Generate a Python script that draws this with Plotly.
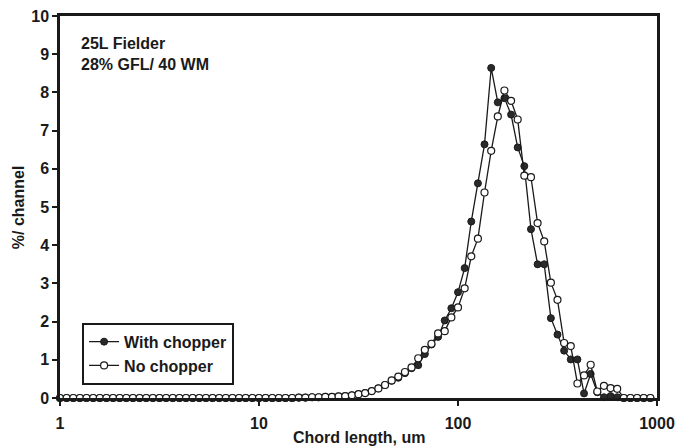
import plotly.graph_objects as go

# FBRM chord-length channels (um), log-spaced, 30 per decade
chord_um = [
    1.000, 1.080, 1.166, 1.259, 1.359, 1.468, 1.585, 1.711, 1.848, 1.995,
    2.154, 2.326, 2.512, 2.712, 2.929, 3.162, 3.415, 3.687, 3.981, 4.299,
    4.642, 5.012, 5.412, 5.843, 6.310, 6.813, 7.356, 7.943, 8.577, 9.261,
    10.00, 10.80, 11.66, 12.59, 13.59, 14.68, 15.85, 17.11, 18.48, 19.95,
    21.54, 23.26, 25.12, 27.12, 29.29, 31.62, 34.15, 36.87, 39.81, 42.99,
    46.42, 50.12, 54.12, 58.43, 63.10, 68.13, 73.56, 79.43, 85.77, 92.61,
    100.0, 108.0, 116.6, 125.9, 135.9, 146.8, 158.5, 171.1, 184.8, 199.5,
    215.4, 232.6, 251.2, 271.2, 292.9, 316.2, 341.5, 368.7, 398.1, 429.9,
    464.2, 501.2, 541.2, 584.3, 631.0, 681.3, 735.6, 794.3, 857.7, 926.1,
]

# % per channel
with_chopper = [0.0] * 36 + [
    0.01, 0.01, 0.02, 0.02, 0.03, 0.03, 0.04, 0.05, 0.07,
    0.10, 0.13, 0.18, 0.25, 0.34, 0.45, 0.53, 0.65, 0.78, 0.86,
    1.15, 1.40, 1.60, 2.03, 2.35, 2.77, 3.40, 4.62, 5.62, 6.64,
    8.64, 7.74, 7.85, 7.42, 6.56, 6.07, 4.42, 3.50, 3.50, 2.09,
    1.66, 1.24, 1.01, 1.01, 0.12, 0.63, 0.15, 0.02, 0.05, 0.02,
    0.0, 0.0, 0.0, 0.0, 0.0,
]

no_chopper = [0.0] * 36 + [
    0.01, 0.01, 0.02, 0.02, 0.03, 0.03, 0.04, 0.05, 0.07,
    0.10, 0.13, 0.18, 0.25, 0.34, 0.46, 0.56, 0.68, 0.80, 1.04,
    1.26, 1.42, 1.69, 1.75, 2.11, 2.37, 2.87, 3.71, 4.17, 5.38,
    6.47, 7.37, 8.05, 7.78, 7.29, 5.82, 5.78, 4.58, 4.10, 3.02,
    2.57, 1.44, 1.36, 0.38, 0.59, 0.87, 0.17, 0.32, 0.26, 0.24,
    0.0, 0.0, 0.0, 0.0, 0.0,
]

x_tick_vals = [1, 10, 100, 1000]
x_tick_text = ["1", "10", "100", "1000"]
y_tick_vals = list(range(0, 11))

FONT = "Liberation Sans, Arial, Helvetica, sans-serif"
INK = "#1a1a1a"
FS = 16

fig = go.Figure()

fig.add_trace(go.Scatter(
    x=chord_um, y=with_chopper, name="With chopper",
    mode="lines+markers", cliponaxis=False, legendgroup="a",
    line=dict(color=INK, width=1.3),
    marker=dict(symbol="circle", size=7, color="#2a2a2a",
                line=dict(color=INK, width=1)),
))
fig.add_trace(go.Scatter(
    x=chord_um, y=no_chopper, name="No chopper",
    mode="lines+markers", cliponaxis=False, legendgroup="b",
    line=dict(color=INK, width=1.3),
    marker=dict(symbol="circle", size=7, color="white",
                line=dict(color=INK, width=1.2)),
))

# sample description, top-left of the plot area
fig.add_annotation(
    x=0.032, y=0.955, xref="paper", yref="paper", xanchor="left", yanchor="top",
    align="left", showarrow=False,
    text="<b>25L Fielder<br>28% GFL/ 40 WM</b>",
    font=dict(family=FONT, size=FS, color=INK),
)

# axis titles
fig.add_annotation(
    x=0.5, y=-0.077, xref="paper", yref="paper", xanchor="center", yanchor="top",
    showarrow=False, text="<b>Chord length, um</b>",
    font=dict(family=FONT, size=FS, color=INK),
)
fig.add_annotation(
    x=-0.07, y=0.5, xref="paper", yref="paper", xanchor="center", yanchor="middle",
    showarrow=False, textangle=-90, text="<b>%/ channel</b>",
    font=dict(family=FONT, size=FS, color=INK),
)

fig.update_layout(
    width=677, height=447,
    margin=dict(l=60, r=20, t=16, b=49, autoexpand=False),
    paper_bgcolor="white", plot_bgcolor="white",
    font=dict(family=FONT, size=FS, color=INK),
    showlegend=True,
    legend=dict(
        x=0.037, y=0.197, xanchor="left", yanchor="top",
        bgcolor="white", bordercolor=INK, borderwidth=2,
        font=dict(family=FONT, size=FS, color=INK, weight="bold"),
        tracegroupgap=0, traceorder="grouped", itemwidth=30,
    ),
    xaxis=dict(
        type="log", range=[0, 3], automargin=False,
        tickvals=x_tick_vals, ticktext=x_tick_text,
        ticks="outside", ticklen=5, tickwidth=2, tickcolor=INK,
        showline=True, linewidth=2.5, linecolor=INK, mirror=True,
        showgrid=False, zeroline=False, ticklabelstandoff=4,
        tickfont=dict(family=FONT, size=FS, color=INK, weight="bold"),
    ),
    yaxis=dict(
        range=[0, 10], tickvals=y_tick_vals, automargin=False,
        ticks="outside", ticklen=5, tickwidth=2, tickcolor=INK,
        showline=True, linewidth=2.5, linecolor=INK, mirror=True,
        showgrid=False, zeroline=False,
        tickfont=dict(family=FONT, size=FS, color=INK, weight="bold"),
    ),
)

fig.write_html("out.html")
